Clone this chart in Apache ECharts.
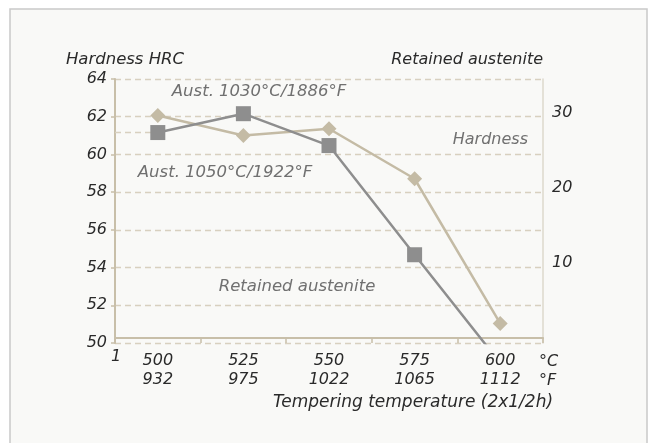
<!DOCTYPE html>
<html>
<head>
<meta charset="utf-8">
<script src="https://cdn.jsdelivr.net/npm/echarts@6/dist/echarts.min.js"></script>
<style>
  html, body { margin: 0; padding: 0; background: #ffffff; }
  #chart { width: 650px; height: 443px; }
</style>
</head>
<body>
<div id="chart"></div>
<script>
// tempering temperatures, °C / °F
const tempC = ['500', '525', '550', '575', '600'];
const tempF = ['932', '975', '1022', '1065', '1112'];
// hardness HRC, two austenitizing temperatures
const aust1030 = [62.06, 61.0, 61.36, 58.71, 51.04];
const aust1050 = [61.16, 62.16, 60.47, 54.68, 48.94];
// right axis (retained austenite) labels
const rightTicks = [10, 20, 30];

const FONT = '"DejaVu Sans", sans-serif';
const tan = '#c4bba5';
const grey = '#8e8e8e';
const gridDash = '#d8d0bf';

function label(text, x, y, align, color, size) {
  return {
    type: 'text',
    style: {
      text: text, x: x, y: y,
      textAlign: align, textVerticalAlign: 'middle',
      font: 'italic ' + (size || 16) + 'px ' + FONT,
      fill: color
    }
  };
}

let myChart = echarts.init(document.getElementById('chart'));
myChart.setOption({
  backgroundColor: '#ffffff',
  animation: false,
  grid: {
    left: 115,
    right: 107,
    top: 79,
    bottom: 100
  },
  graphic: [
    {
      type: 'rect',
      z: -10,
      shape: { x: 10, y: 9, width: 637, height: 440 },
      style: { fill: '#f9f9f7', stroke: '#c9c9c9', lineWidth: 1.5 }
    },
    label('Aust. 1030°C/1886°F', 259, 92, 'center', '#707070', 16.5),
    label('Aust. 1050°C/1922°F', 225, 173, 'center', '#707070', 16.5),
    label('Hardness', 528, 140, 'right', '#707070', 16),
    label('Retained austenite', 297, 287, 'center', '#707070', 16.5),
    label('Hardness HRC', 125, 60, 'center', '#2a2a2a', 16.5),
    label('Retained austenite', 543, 60, 'right', '#2a2a2a', 16),
    label('Tempering temperature (2x1/2h)', 413, 403, 'center', '#2a2a2a', 17),
    label('1', 116, 357, 'center', '#2a2a2a', 16),
    {
      type: 'text',
      style: { text: '°C\n°F', x: 539, y: 371, textVerticalAlign: 'middle', lineHeight: 19,
        font: 'italic 16px ' + FONT, fill: '#2a2a2a' }
    }
  ],
  xAxis: [
    {
      type: 'category',
      data: tempC,
      boundaryGap: true,
      axisLine: { lineStyle: { color: '#c8bfa9', width: 2 } },
      axisTick: { show: true, inside: false, length: 5, lineStyle: { color: '#c8bfa9', width: 1.5 } },
      axisLabel: {
        margin: 8,
        lineHeight: 19,
        color: '#2a2a2a',
        fontSize: 16,
        fontStyle: 'italic',
        fontFamily: FONT,
        formatter: function (v, i) { return v + '\n' + tempF[i]; }
      },
      splitLine: { show: false }
    },
    {
      // inner half of the ticks
      type: 'category',
      data: tempC,
      position: 'bottom',
      offset: 0,
      axisLine: { show: false },
      axisTick: { show: true, inside: true, length: 5, lineStyle: { color: '#c8bfa9', width: 1.5 } },
      axisLabel: { show: false },
      splitLine: { show: false }
    },
    {
      // helper axis for the guide line to the first point
      type: 'value',
      min: -0.5,
      max: 4.5,
      show: false
    }
  ],
  yAxis: [
    {
      type: 'value',
      min: 50,
      max: 64,
      interval: 2,
      axisLine: { show: true, onZero: false, lineStyle: { color: '#c8bfa9', width: 2 } },
      axisTick: { show: true, length: 4, lineStyle: { color: '#c8bfa9', width: 1.5 } },
      axisLabel: {
        margin: 8,
        color: '#2a2a2a',
        fontSize: 16,
        fontStyle: 'italic',
        fontFamily: FONT
      },
      splitLine: {
        lineStyle: { color: gridDash, type: [6, 4], width: 1.4 }
      }
    },
    {
      type: 'value',
      min: -0.7,
      max: 34.5,
      position: 'right',
      axisLine: { show: true, onZero: false, lineStyle: { color: '#ddd8cc', width: 1.5 } },
      axisTick: { show: false },
      axisLabel: {
        customValues: rightTicks,
        margin: 9,
        color: '#2a2a2a',
        fontSize: 16,
        fontStyle: 'italic',
        fontFamily: FONT
      },
      splitLine: { show: false }
    }
  ],
  series: [
    {
      name: 'guide',
      type: 'line',
      xAxisIndex: 2,
      data: [[-0.5, aust1050[0]], [0, aust1050[0]]],
      symbol: 'none',
      lineStyle: { color: gridDash, type: [6, 4], width: 1.4 },
      z: 1
    },
    {
      name: 'Aust. 1030°C/1886°F',
      type: 'line',
      data: aust1030,
      symbol: 'diamond',
      symbolSize: 15,
      itemStyle: { color: tan },
      lineStyle: { color: tan, width: 2.5 },
      z: 3
    },
    {
      name: 'Aust. 1050°C/1922°F',
      type: 'line',
      data: aust1050,
      symbol: 'rect',
      symbolSize: 15,
      clip: true,
      itemStyle: { color: grey },
      lineStyle: { color: grey, width: 2.5 },
      z: 4
    }
  ]
});
</script>
</body>
</html>
